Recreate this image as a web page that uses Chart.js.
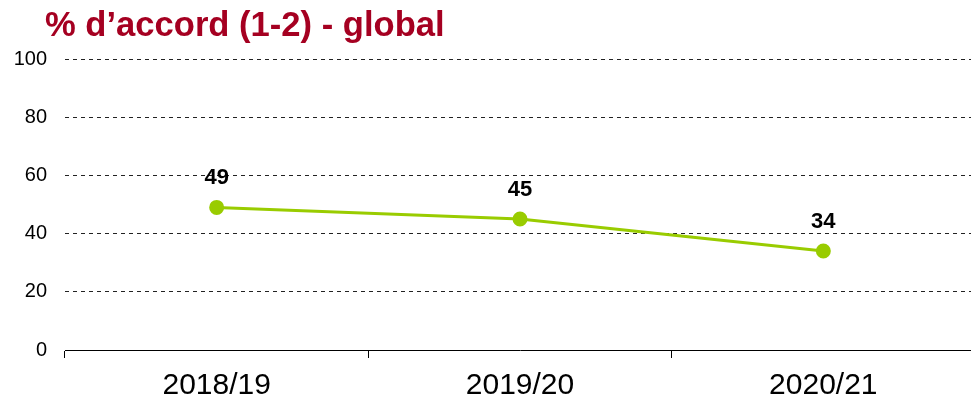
<!DOCTYPE html>
<html>
<head>
<meta charset="utf-8">
<script src="https://cdn.jsdelivr.net/npm/chart.js@4"></script>
<style>
  html, body { margin: 0; background: #fff; overflow: hidden; }
  #wrap { position: relative; width: 971px; height: 402px; overflow: hidden; }
  #title {
    position: absolute; left: 45px; top: 5px; margin: 0;
    font: bold 34.6px "Liberation Sans", Arial, sans-serif;
    color: #a50021;
  }
</style>
</head>
<body>
<div id="wrap">
  <h1 id="title">% d’accord (1-2) - global</h1>
  <canvas id="chart" width="984" height="402"></canvas>
</div>
<script>
// ===== データ =====
const labels = ['2018/19', '2019/20', '2020/21'];
const values = [49, 45, 34];
const yTicks = [0, 20, 40, 60, 80, 100];

const FONT = '"Liberation Sans", Arial, sans-serif';
const GREEN = '#99cc00';

// 値ラベル
const valueLabels = {
  id: 'valueLabels',
  afterDatasetsDraw(chart) {
    const ctx = chart.ctx;
    const meta = chart.getDatasetMeta(0);
    ctx.save();
    ctx.font = 'bold 22px ' + FONT;
    ctx.fillStyle = '#000';
    ctx.textAlign = 'center';
    ctx.textBaseline = 'middle';
    meta.data.forEach((pt, i) => {
      ctx.fillText(String(values[i]), pt.x, pt.y - 29);
    });
    ctx.restore();
  }
};

new Chart(document.getElementById('chart'), {
  type: 'line',
  data: {
    labels,
    datasets: [{
      data: values,
      borderColor: GREEN,
      backgroundColor: GREEN,
      borderWidth: 3,
      pointRadius: 6,
      pointHoverRadius: 6,
      tension: 0,
    }],
  },
  options: {
    responsive: false,
    animation: false,
    layout: { padding: { top: 59, right: 0, left: 0, bottom: 0 } },
    plugins: { legend: { display: false }, tooltip: { enabled: false } },
    scales: {
      x: {
        offset: true,
        afterFit: s => { s.height = 52; s.paddingLeft = 0; s.paddingRight = 0; },
        grid: {
          offset: true,
          drawOnChartArea: false,
          drawTicks: true,
          tickLength: 8,
          color: '#000',
        },
        border: { display: true, color: '#000', width: 1 },
        ticks: { font: { size: 30, family: FONT }, color: '#000', padding: 10 },
      },
      y: {
        min: 0,
        max: 100,
        afterFit: s => { s.width = 65; },
        afterBuildTicks: s => { s.ticks = yTicks.map(v => ({ value: v })); },
        grid: { color: '#222', drawTicks: false, lineWidth: 1 },
        border: { display: false, dash: [4, 4] },
        ticks: { font: { size: 20, family: FONT }, color: '#000', padding: 18 },
      },
    },
  },
  plugins: [valueLabels],
});
</script>
</body>
</html>
